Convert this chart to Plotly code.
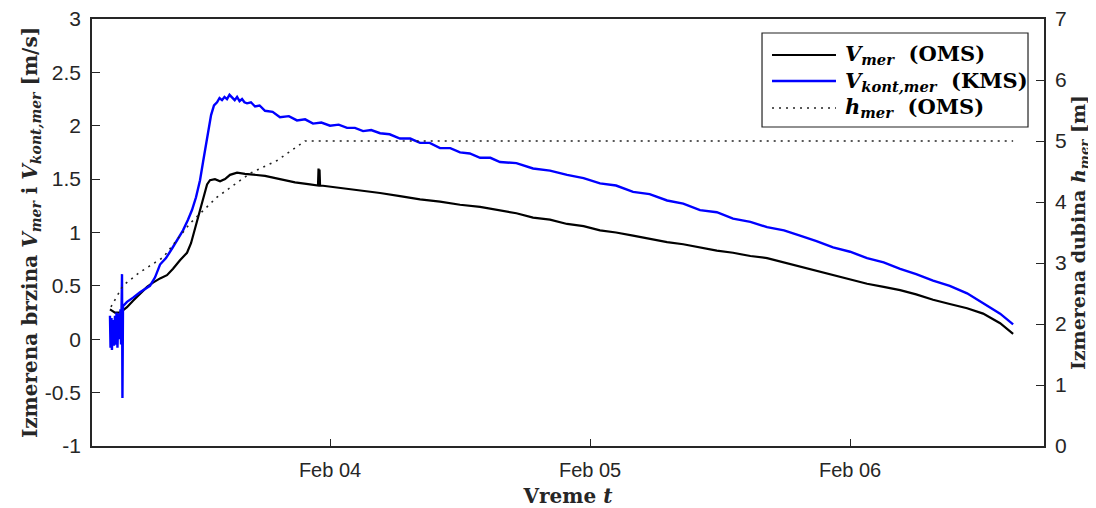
import pandas as pd
import plotly.graph_objects as go

BASE = pd.Timestamp("2018-02-03 00:00")

# hours since Feb 03 00:00 and values
v_oms_hours = [3.69, 4.15, 4.62, 5.26, 5.82, 6.46, 7.11, 7.66, 8.31, 8.95, 9.51, 10.15, 10.80, 11.17,
               11.54, 11.91, 12.18, 12.46, 12.65, 12.92, 13.38, 13.85, 14.31, 14.77, 15.42, 16.15,
               17.08, 18.0, 19.38, 20.77, 22.15, 22.89, 22.94, 22.98, 23.03, 23.08, 23.17, 24.0,
               25.38, 26.77, 28.62, 30.46, 32.31, 34.15, 36.0, 37.85, 39.69, 41.2, 42.74, 44.3,
               45.88, 47.4, 48.92, 50.4, 51.97, 53.5, 55.11, 56.6, 58.15, 59.7, 61.2, 62.8, 64.34,
               65.9, 67.38, 68.9, 70.43, 72.0, 73.57, 75.1, 76.62, 78.1, 79.66, 81.2, 82.8, 84.28,
               85.85, 87.05]
v_oms = [0.28, 0.25, 0.25, 0.30, 0.36, 0.42, 0.49, 0.53, 0.57, 0.60, 0.66, 0.74, 0.81, 0.90,
         1.04, 1.18, 1.26, 1.38, 1.45, 1.49, 1.50, 1.48, 1.50, 1.54, 1.56, 1.55,
         1.54, 1.53, 1.50, 1.47, 1.45, 1.44, 1.60, 1.45, 1.59, 1.44, 1.44, 1.43,
         1.41, 1.39, 1.37, 1.34, 1.31, 1.29, 1.26, 1.24, 1.21, 1.18, 1.14, 1.12,
         1.08, 1.06, 1.02, 1.00, 0.97, 0.94, 0.91, 0.89, 0.86, 0.83, 0.81, 0.78, 0.76,
         0.72, 0.68, 0.64, 0.60, 0.56, 0.52, 0.49, 0.46, 0.42, 0.37, 0.33, 0.29, 0.24,
         0.15, 0.05]

v_kms_hours = [3.69, 3.74, 3.83, 3.87, 3.97, 4.06, 4.15, 4.20, 4.29, 4.38, 4.47, 4.57, 4.66, 4.71,
               4.80, 4.84, 4.89, 5.26, 5.82, 6.46, 7.38, 7.85, 8.31, 8.86, 9.42, 9.97, 10.43,
               10.89, 11.26, 11.63, 12.0, 12.28, 12.46, 12.74, 13.02, 13.29, 13.57, 13.80, 14.03,
               14.26, 14.49, 14.72, 14.95, 15.2, 15.42, 15.65, 15.88, 16.1, 16.34, 16.7, 17.08,
               17.5, 18.0, 18.7, 19.38, 20.2, 20.95, 21.7, 22.43, 23.2, 24.0, 24.8, 25.57, 26.3,
               27.05, 27.8, 28.62, 29.5, 30.46, 31.4, 32.31, 33.2, 34.15, 35.1, 36.0, 36.9, 37.85,
               38.8, 39.69, 41.2, 42.74, 44.3, 45.88, 47.4, 48.92, 50.4, 51.97, 53.5, 55.11, 56.6,
               58.15, 59.7, 61.2, 62.8, 64.34, 65.9, 67.38, 68.9, 70.43, 72.0, 73.57, 75.1, 76.62,
               78.1, 79.66, 81.2, 82.8, 84.28, 85.85, 87.05]
v_kms = [0.22, -0.08, 0.20, -0.10, 0.18, -0.06, 0.22, -0.05, 0.25, -0.08, 0.24, 0.0, 0.28, -0.05,
         0.61, -0.55, 0.31, 0.35, 0.39, 0.44, 0.50, 0.58, 0.70, 0.76, 0.85, 0.95, 1.02,
         1.12, 1.21, 1.33, 1.49, 1.66, 1.77, 1.96, 2.10, 2.19, 2.22, 2.26, 2.24,
         2.27, 2.25, 2.29, 2.27, 2.24, 2.27, 2.23, 2.25, 2.22, 2.21, 2.22, 2.18,
         2.19, 2.14, 2.13, 2.08, 2.09, 2.05, 2.06, 2.02, 2.03, 2.00, 2.01, 1.98, 1.98,
         1.95, 1.96, 1.93, 1.92, 1.88, 1.88, 1.84, 1.84, 1.79, 1.79, 1.75, 1.74, 1.70,
         1.70, 1.66, 1.65, 1.60, 1.58, 1.54, 1.51, 1.46, 1.44, 1.38, 1.36, 1.30, 1.27,
         1.21, 1.19, 1.13, 1.10, 1.05, 1.02, 0.97, 0.92, 0.86, 0.82, 0.76, 0.72, 0.66,
         0.61, 0.55, 0.50, 0.43, 0.34, 0.24, 0.14]

h_hours = [3.78, 4.89, 6.46, 8.58, 11.08, 13.57, 16.62, 19.11, 21.69, 87.05]
h_oms = [2.28, 2.63, 2.85, 3.09, 3.65, 4.08, 4.47, 4.68, 5.00, 5.00]

series_labels = ["<b><i>V</i><sub><i>mer</i></sub>  (OMS)</b>",
                 "<b><i>V</i><sub><i>kont,mer</i></sub>  (KMS)</b>",
                 "<b><i>h</i><sub><i>mer</i></sub>  (OMS)</b>"]
x_tick_labels = ["Feb 04", "Feb 05", "Feb 06"]
x_tick_hours = [24, 48, 72]
y_left_ticks = [-1, -0.5, 0, 0.5, 1, 1.5, 2, 2.5, 3]
y_left_labels = ["-1", "-0.5", "0", "0.5", "1", "1.5", "2", "2.5", "3"]
y_right_ticks = [0, 1, 2, 3, 4, 5, 6, 7]


def to_time(hours):
    return BASE + pd.to_timedelta(hours, unit="h")


SERIF = "DejaVu Serif"
SANS = "Liberation Sans, Arial"
AX = "#262626"

line_styles = [dict(color="black", width=2.2),
               dict(color="#0000ff", width=2.4),
               dict(color="#222222", width=1.6, dash="2px,5px")]

fig = go.Figure()
fig.add_trace(go.Scatter(x=to_time(v_oms_hours), y=v_oms, mode="lines",
                         line=line_styles[0], name=series_labels[0]))
fig.add_trace(go.Scatter(x=to_time(v_kms_hours), y=v_kms, mode="lines",
                         line=line_styles[1], name=series_labels[1]))
fig.add_trace(go.Scatter(x=to_time(h_hours), y=h_oms, mode="lines", yaxis="y2",
                         line=line_styles[2], name=series_labels[2]))

# manual legend (box, line samples, labels) in paper coordinates
shapes = [dict(type="rect", xref="paper", yref="paper", x0=0.7038, x1=0.9832, y0=0.7471, y1=0.9672,
               line=dict(color="#222222", width=1.2), fillcolor="white", layer="above")]
annotations = []
legend_rows = [0.9157, 0.8548, 0.7916]
for lab, sty, yy in zip(series_labels, line_styles, legend_rows):
    shapes.append(dict(type="line", xref="paper", yref="paper", x0=0.7143, x1=0.7815, y0=yy, y1=yy,
                       line=sty, layer="above"))
    annotations.append(dict(text=lab, xref="paper", yref="paper", x=0.7889, y=yy,
                            xanchor="left", yanchor="middle", showarrow=False,
                            font=dict(family=SERIF, size=21, color="black")))

fig.update_layout(
    width=1088, height=500,
    margin=dict(l=84, r=52, t=11, b=62, autoexpand=False),
    paper_bgcolor="white", plot_bgcolor="white",
    showlegend=False,
    shapes=shapes, annotations=annotations,
    xaxis=dict(
        type="date", automargin=False,
        range=[to_time(2.03), to_time(89.9)],
        tickvals=to_time(x_tick_hours), ticktext=x_tick_labels,
        ticks="inside", ticklen=7, tickcolor=AX, tickwidth=1,
        showline=True, linecolor=AX, linewidth=1.5, mirror=True,
        showgrid=False, zeroline=False,
        tickfont=dict(family=SANS, size=20, color="#262626"),
        ticklabelstandoff=5, ticklabeloverflow="allow",
        title=dict(text="<b>Vreme <i>t</i></b>", font=dict(family=SERIF, size=20, color="#262626"),
                   standoff=10),
    ),
    yaxis=dict(
        automargin=False,
        range=[-1, 3], tickvals=y_left_ticks, ticktext=y_left_labels,
        ticks="inside", ticklen=8, tickcolor=AX, tickwidth=1,
        showline=True, linecolor=AX, linewidth=1.5,
        showgrid=False, zeroline=False,
        tickfont=dict(family=SANS, size=21, color="#262626"),
        ticklabelstandoff=5, ticklabeloverflow="allow",
        title=dict(text="<b>Izmerena brzina <i>V</i><sub><i>mer</i></sub> i <i>V</i><sub><i>kont,mer</i></sub> [m/s]</b>",
                   font=dict(family=SERIF, size=20, color="#262626"), standoff=2),
    ),
    yaxis2=dict(
        automargin=False,
        overlaying="y", side="right",
        range=[0, 7], tickvals=y_right_ticks,
        ticks="inside", ticklen=8, tickcolor=AX, tickwidth=1,
        showline=True, linecolor=AX, linewidth=1.5,
        showgrid=False, zeroline=False,
        tickfont=dict(family=SANS, size=21, color="#262626"),
        ticklabelstandoff=5, ticklabeloverflow="allow",
        title=dict(text="<b>Izmerena dubina <i>h</i><sub><i>mer</i></sub> [m]</b>",
                   font=dict(family=SERIF, size=19, color="#262626"), standoff=2),
    ),
)

fig.write_html("out.html")
